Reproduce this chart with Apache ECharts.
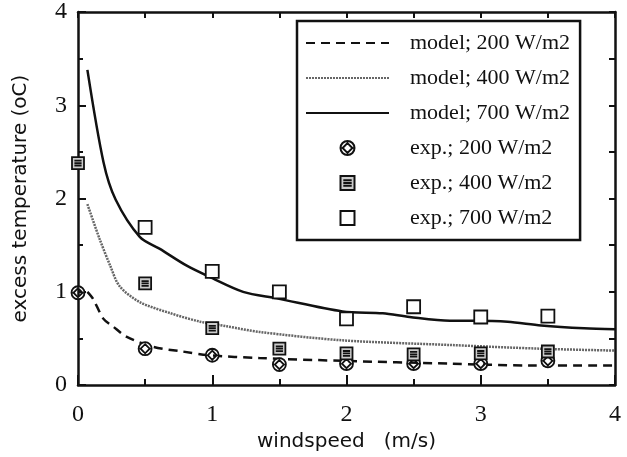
<!DOCTYPE html>
<html>
<head>
    <meta charset="utf-8">
    <title>excess temperature</title>
    <script src="https://cdn.jsdelivr.net/npm/echarts@6/dist/echarts.min.js"></script>
</head>
<style>
    html, body { margin: 0; background: #fff; }
    #main { width: 627px; height: 457px; }
</style>
<body>
    <div id="main"></div>
    <script type="text/javascript">
        // model curves as [windspeed, temperature]
        var model200 = [[0.07,1.0],[0.11,0.93],[0.19,0.71],[0.26,0.63],[0.36,0.52],[0.56,0.41],[0.78,0.36],[0.98,0.32],[1.35,0.29],[1.97,0.26],[2.77,0.23],[3.36,0.21],[4.0,0.21]];
        var model400 = [[0.07,1.94],[0.16,1.57],[0.24,1.28],[0.31,1.06],[0.46,0.89],[0.69,0.77],[0.91,0.68],[1.11,0.63],[1.35,0.57],[1.97,0.48],[2.77,0.43],[3.45,0.39],[4.0,0.37]];
        var model700 = [[0.07,3.38],[0.19,2.39],[0.28,1.99],[0.46,1.59],[0.61,1.46],[0.81,1.28],[0.98,1.16],[1.23,1.0],[1.48,0.93],[1.97,0.79],[2.27,0.77],[2.47,0.73],[2.77,0.69],[2.95,0.69],[3.2,0.68],[3.45,0.64],[3.77,0.61],[4.0,0.60]];

        // measurements
        var exp200X = [0, 0.5, 1, 1.5, 2, 2.5, 3, 3.5];
        var exp200Y = [0.99, 0.39, 0.32, 0.22, 0.23, 0.23, 0.23, 0.26];
        var exp400X = [0, 0.5, 1, 1.5, 2, 2.5, 3, 3.5];
        var exp400Y = [2.38, 1.09, 0.61, 0.39, 0.34, 0.33, 0.34, 0.36];
        var exp700X = [0.5, 1, 1.5, 2, 2.5, 3, 3.5];
        var exp700Y = [1.69, 1.22, 1.0, 0.71, 0.84, 0.73, 0.74];

        var names = ['model; 200 W/m2', 'model; 400 W/m2', 'model; 700 W/m2',
                     'exp.; 200 W/m2', 'exp.; 400 W/m2', 'exp.; 700 W/m2'];

        function pairs(xs, ys) {
            var out = [];
            for (var i = 0; i < xs.length; i++) out.push([xs[i], ys[i]]);
            return out;
        }

        var SYM_SQUARE = 'path://M0,0H10V10H0Z';
        var SYM_HATCH = 'path://M0,0H10V10H0Z M2,3H8 M2,5H8 M2,7H8';
        var SYM_DIAMOND = 'path://M0,5A5,5 0 1,0 10,5A5,5 0 1,0 0,5Z M5,1.5L8.5,5L5,8.5L1.5,5Z';

        var serif = '"Liberation Serif", "DejaVu Serif", serif';
        var sans = '"DejaVu Sans", "Liberation Sans", sans-serif';

        function frameAxis(pos) {
            return {
                type: 'value', position: pos, min: 0, max: 4, interval: 0.5,
                axisLine: { show: true, onZero: false, lineStyle: { color: '#111', width: 2.5 } },
                axisTick: { show: true, inside: true, length: 6, lineStyle: { color: '#111', width: 2 } },
                axisLabel: { show: false },
                splitLine: { show: false }
            };
        }

        function line(name, data, type, color, width) {
            return {
                name: name, type: 'line', data: data, symbol: 'none', showSymbol: false,
                smooth: 0.3, z: 3,
                lineStyle: { color: color, width: width, type: type },
                itemStyle: { color: color }
            };
        }

        function scatter(name, data, symbol, size, fill) {
            return {
                name: name, type: 'scatter', data: data, symbol: symbol, symbolSize: size, z: 5,
                itemStyle: { color: fill, borderColor: '#111', borderWidth: 1.8, opacity: 1 }
            };
        }

        // hide the dot ECharts puts in the middle of a line legend icon
        var legendData = names.map(function (n, i) {
            return i < 3 ? { name: n, itemStyle: { opacity: 0 } } : { name: n };
        });

        var option = {
            animation: false,
            backgroundColor: '#fff',
            grid: { left: 78, right: 12, top: 11, bottom: 70 },
            legend: {
                orient: 'vertical',
                left: 297, top: 21, width: 300, height: 231,
                padding: [11, 10, 11, 8],
                borderColor: '#111', borderWidth: 2.5,
                itemWidth: 83, itemHeight: 14, itemGap: 13,
                textStyle: { fontFamily: serif, fontSize: 22, color: '#111', padding: [0, 0, 0, 16], lineHeight: 22 },
                data: legendData
            },
            xAxis: [{
                type: 'value', min: 0, max: 4, interval: 1,
                name: 'windspeed   (m/s)', nameLocation: 'middle', nameGap: 44,
                nameTextStyle: { fontFamily: sans, fontSize: 20, color: '#111' },
                axisLine: { onZero: false, lineStyle: { color: '#111', width: 2.5 } },
                axisTick: { inside: true, length: 10, lineStyle: { color: '#111', width: 2 } },
                minorTick: { show: true, splitNumber: 2, length: 6, lineStyle: { color: '#111', width: 2 } },
                axisLabel: { fontFamily: serif, fontSize: 24, color: '#111', margin: 18 },
                splitLine: { show: false }
            }, frameAxis('top')],
            yAxis: [{
                type: 'value', min: 0, max: 4, interval: 1,
                name: 'excess temperature (oC)', nameLocation: 'middle', nameGap: 47,
                nameTextStyle: { fontFamily: sans, fontSize: 20, color: '#111' },
                axisLine: { onZero: false, lineStyle: { color: '#111', width: 2.5 } },
                axisTick: { inside: true, length: 8, lineStyle: { color: '#111', width: 2 } },
                minorTick: { show: true, splitNumber: 2, length: 5, lineStyle: { color: '#111', width: 2 } },
                axisLabel: { fontFamily: serif, fontSize: 24, color: '#111', margin: 11 },
                splitLine: { show: false }
            }, frameAxis('right')],
            series: [
                line(names[0], model200, [9, 6], '#111', 2.5),
                line(names[1], model400, [2, 1], '#666', 2.5),
                line(names[2], model700, 'solid', '#111', 2.5),
                scatter(names[3], pairs(exp200X, exp200Y), SYM_DIAMOND, 13, '#fff'),
                scatter(names[4], pairs(exp400X, exp400Y), SYM_HATCH, 12, '#ccc'),
                scatter(names[5], pairs(exp700X, exp700Y), SYM_SQUARE, 13, '#fff')
            ]
        };

        var myChart = echarts.init(document.getElementById('main'));
        myChart.setOption(option);
    </script>
</body>
</html>
